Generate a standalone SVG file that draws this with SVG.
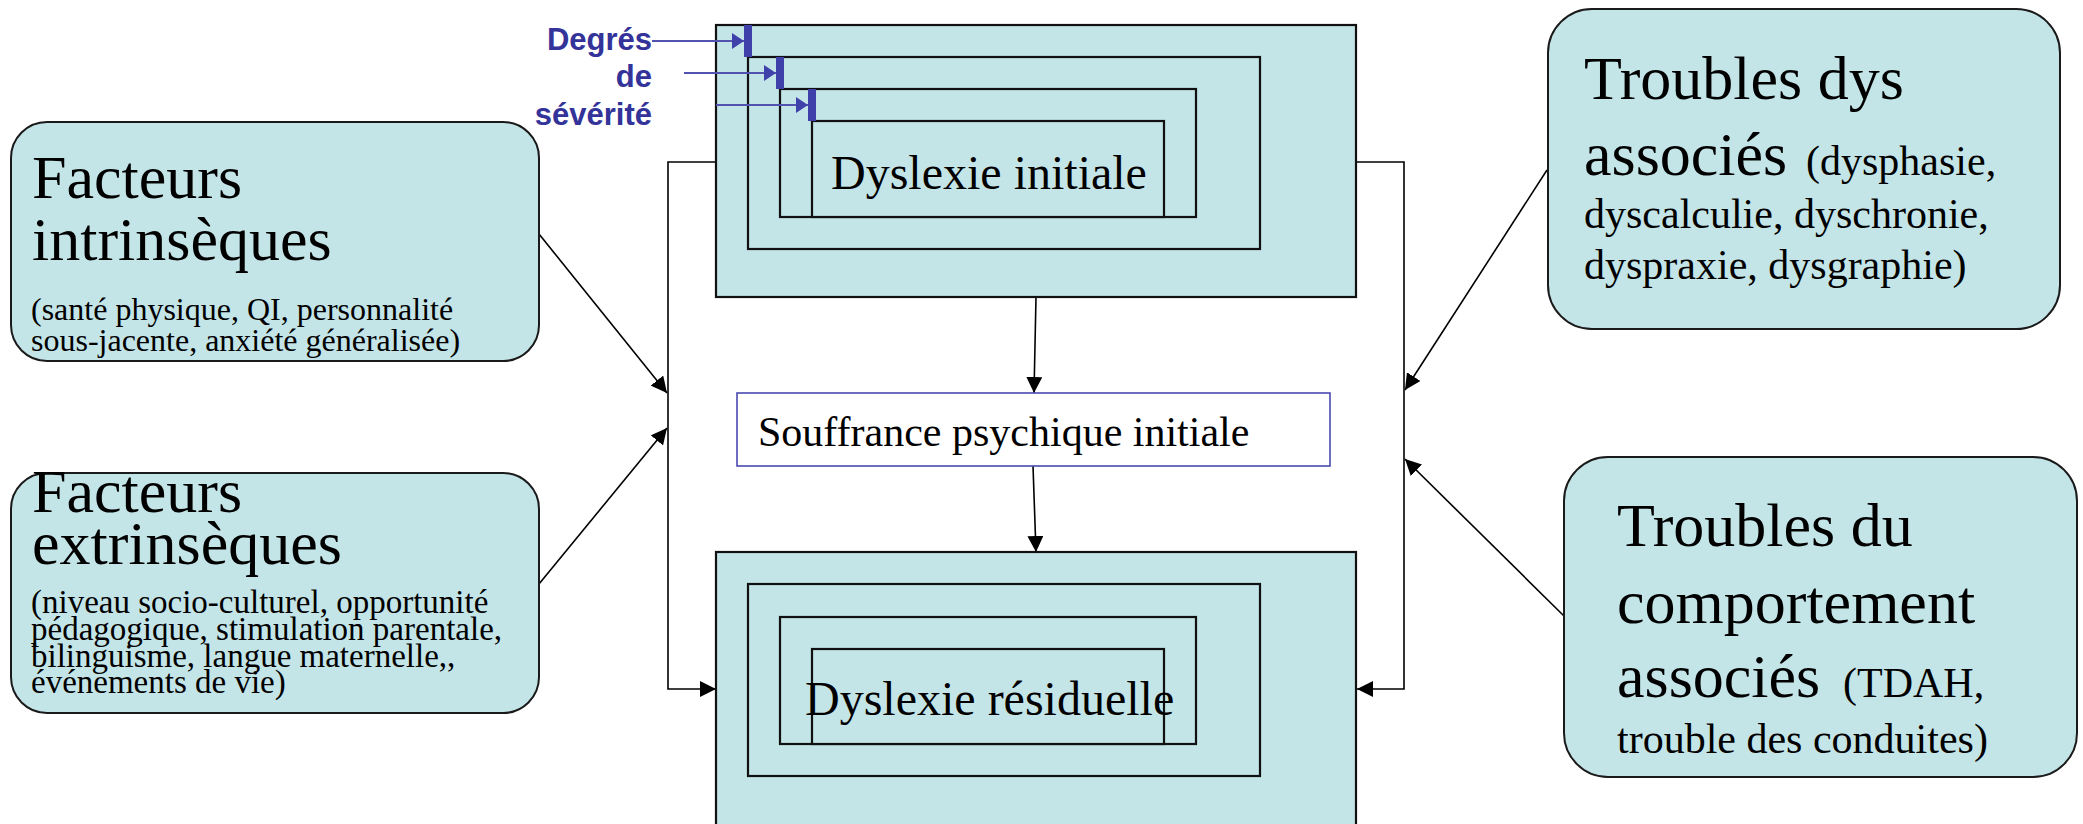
<svg xmlns="http://www.w3.org/2000/svg" width="2083" height="824" viewBox="0 0 2083 824">
<style>
.bg{fill:#ffffff}
.box{fill:#c4e5e8;stroke:#1a1a1a;stroke-width:2}
.nest{fill:#c4e5e8;stroke:#111;stroke-width:2.2}
.big{font-family:"Liberation Serif","Times New Roman",serif;font-size:62px;fill:#000}
.small{font-family:"Liberation Serif","Times New Roman",serif;font-size:33px;fill:#000}
.small2{font-family:"Liberation Serif","Times New Roman",serif;font-size:32px;fill:#000}
.mid{font-family:"Liberation Serif","Times New Roman",serif;font-size:42px;fill:#000}
.dys{font-family:"Liberation Serif","Times New Roman",serif;font-size:48px;fill:#000}
.conn{fill:none;stroke:#000;stroke-width:1.6}
.blue{font-family:"Liberation Sans",Arial,sans-serif;font-weight:bold;font-size:31px;fill:#333399}
.bline{stroke:#5252b0;stroke-width:2.2;fill:none}
.bbar{fill:#4040aa}
</style>
<defs>
<marker id="ah" markerUnits="userSpaceOnUse" markerWidth="17" markerHeight="16" refX="16" refY="8" orient="auto">
<path d="M0,0 L16,8 L0,16 z" fill="#000"/>
</marker>
<marker id="bh" markerUnits="userSpaceOnUse" markerWidth="13" markerHeight="16" refX="12" refY="8" orient="auto">
<path d="M0,0 L12,8 L0,16 z" fill="#4040aa"/>
</marker>
</defs>
<rect class="bg" x="0" y="0" width="2083" height="824"/>

<g id="connectors">
<polyline class="conn" points="716,162 668,162 668,689 716,689" marker-end="url(#ah)"/>
<polyline class="conn" points="1356,162 1404,162 1404,689 1357,689" marker-end="url(#ah)"/>
<line class="conn" x1="539" y1="234" x2="667" y2="393" marker-end="url(#ah)"/>
<line class="conn" x1="539" y1="584" x2="667" y2="428" marker-end="url(#ah)"/>
<line class="conn" x1="1547" y1="170" x2="1405" y2="390" marker-end="url(#ah)"/>
<line class="conn" x1="1564" y1="616" x2="1405" y2="459" marker-end="url(#ah)"/>
<line class="conn" x1="1036" y1="297" x2="1034" y2="393" marker-end="url(#ah)"/>
<line class="conn" x1="1033" y1="466" x2="1036" y2="552" marker-end="url(#ah)"/>
</g>

<g id="dyslexie-initiale">
<rect class="nest" x="716" y="25" width="640" height="272"/>
<rect class="nest" x="748" y="57" width="512" height="192"/>
<rect class="nest" x="780" y="89" width="416" height="128"/>
<rect class="nest" x="812" y="121" width="352" height="96"/>
<text class="dys" x="831" y="189">Dyslexie initiale</text>
</g>

<g id="degres-severite">
<text class="blue" text-anchor="end" x="652" y="50">Degrés</text>
<text class="blue" text-anchor="end" x="652" y="87">de</text>
<text class="blue" text-anchor="end" x="652" y="125">sévérité</text>
<line class="bline" x1="652" y1="41" x2="744" y2="41" marker-end="url(#bh)"/>
<line class="bline" x1="684" y1="73" x2="776" y2="73" marker-end="url(#bh)"/>
<line class="bline" x1="716" y1="105" x2="808" y2="105" marker-end="url(#bh)"/>
<rect class="bbar" x="744" y="25" width="8" height="32"/>
<rect class="bbar" x="776" y="57" width="8" height="32"/>
<rect class="bbar" x="808" y="89" width="8" height="32"/>
</g>

<g id="souffrance">
<rect x="737" y="393" width="593" height="73" fill="#fff" stroke="#4a4ab0" stroke-width="1.6"/>
<text class="mid" x="758" y="446">Souffrance psychique initiale</text>
</g>

<g id="dyslexie-residuelle">
<rect class="nest" x="716" y="552" width="640" height="290"/>
<rect class="nest" x="748" y="584" width="512" height="192"/>
<rect class="nest" x="780" y="617" width="416" height="127"/>
<rect class="nest" x="812" y="649" width="352" height="95"/>
<text class="dys" x="805" y="715">Dyslexie résiduelle</text>
</g>

<g id="facteurs-intrinseques">
<rect class="box" x="11" y="122" width="528" height="239" rx="36" ry="36"/>
<text class="big" x="32" y="198">Facteurs</text>
<text class="big" x="32" y="260">intrinsèques</text>
<text class="small2" x="31" y="320">(santé physique, QI, personnalité</text>
<text class="small2" x="31" y="351">sous-jacente, anxiété généralisée)</text>
</g>

<g id="facteurs-extrinseques">
<rect class="box" x="11" y="473" width="528" height="240" rx="36" ry="36"/>
<text class="big" x="32" y="512">Facteurs</text>
<text class="big" x="32" y="564">extrinsèques</text>
<text class="small" x="31" y="613">(niveau socio-culturel, opportunité</text>
<text class="small" x="31" y="640">pédagogique, stimulation parentale,</text>
<text class="small" x="31" y="667">bilinguisme, langue maternelle,,</text>
<text class="small" x="31" y="693">événements de vie)</text>
</g>

<g id="troubles-dys">
<rect class="box" x="1548" y="9" width="512" height="320" rx="44" ry="44"/>
<text class="big" x="1584" y="99">Troubles dys</text>
<text class="big" x="1584" y="175">associés<tspan class="mid" x="1806">(dysphasie,</tspan></text>
<text class="mid" x="1584" y="228">dyscalculie, dyschronie,</text>
<text class="mid" x="1584" y="279">dyspraxie, dysgraphie)</text>
</g>

<g id="troubles-comportement">
<rect class="box" x="1564" y="457" width="513" height="320" rx="44" ry="44"/>
<text class="big" x="1617" y="546">Troubles du</text>
<text class="big" x="1617" y="623">comportement</text>
<text class="big" x="1617" y="697">associés<tspan class="mid" x="1843">(TDAH,</tspan></text>
<text class="mid" x="1617" y="753">trouble des conduites)</text>
</g>
</svg>
